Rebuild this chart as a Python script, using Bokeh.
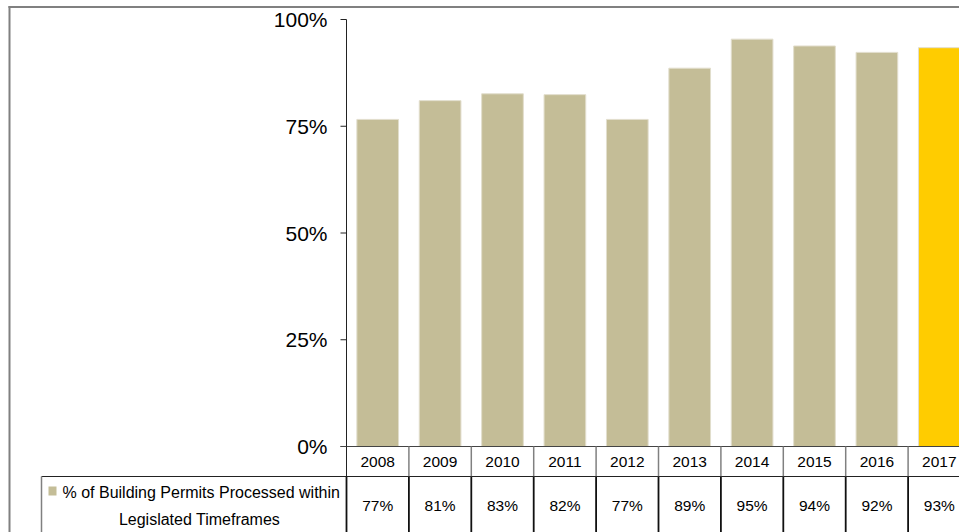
from bokeh.plotting import figure
from bokeh.models import Range1d
from bokeh.core.properties import value
from bokeh.embed import file_html
from bokeh.resources import INLINE

# ---- data ----
years = ["2008", "2009", "2010", "2011", "2012", "2013", "2014", "2015", "2016", "2017"]
pct_within = [76.6, 81.0, 82.6, 82.4, 76.6, 88.6, 95.4, 93.8, 92.3, 93.4]
bar_colors = ["#C4BD97"] * 9 + ["#FFCC00"]
y_ticks = [0, 25, 50, 75, 100]
y_tick_labels = ["0%", "25%", "50%", "75%", "100%"]
series_line1 = "% of Building Permits Processed within"
series_line2 = "Legislated Timeframes"
series_color = "#C4BD97"

# ---- layout constants (pixels) ----
W, H = 959, 532
LEFT = 346          # pixel column of the value axis
ZERO_PX = 446       # pixel row of 0%
PX_PER_PCT = 4.27
COL_PX = 62.4
ROW1_BOTTOM = 476   # bottom of the year row
FONT = "Liberation Sans"


def xpx(px):
    return (px - LEFT) / COL_PX


def ypx(px):
    return (ZERO_PX - px) / PX_PER_PCT


p = figure(width=W, height=H, output_backend="svg", toolbar_location=None,
           x_range=Range1d(xpx(0), xpx(W)), y_range=Range1d(ypx(H), ypx(0)),
           x_axis_location=None, y_axis_location=None,
           min_border=0, min_border_left=0, min_border_right=0,
           min_border_top=0, min_border_bottom=0)
p.outline_line_color = None
p.xgrid.visible = False
p.ygrid.visible = False
p.background_fill_color = "white"
p.border_fill_color = "white"

n = len(years)
xs = [i + 0.5 for i in range(n)]

# bars
p.vbar(x=xs, top=pct_within, bottom=0, width=0.668, fill_color=bar_colors,
       line_color="#E2DECD", line_width=1)

# value axis
p.segment(x0=[0], y0=[0], x1=[0], y1=[y_ticks[-1]], line_color="#222222", line_width=1)
nt = len(y_ticks)
p.segment(x0=[xpx(LEFT - 6)] * nt, y0=y_ticks, x1=[0] * nt, y1=y_ticks,
          line_color="#222222", line_width=1)
p.text(x=[xpx(327)] * nt, y=y_ticks, text=y_tick_labels, text_font=value(FONT),
       text_font_size="21px", text_align="right", text_baseline="middle",
       text_color="black")

# data table
p.segment(x0=[xpx(LEFT - 6)], y0=[0], x1=[xpx(W)], y1=[0],
          line_color="#444444", line_width=1)
p.segment(x0=[xpx(41)], y0=[ypx(ROW1_BOTTOM)], x1=[xpx(W)], y1=[ypx(ROW1_BOTTOM)],
          line_color="#222222", line_width=1.2)
vx = list(range(1, n + 1))
p.segment(x0=vx, y0=[0] * n, x1=vx, y1=[ypx(ROW1_BOTTOM)] * n,
          line_color="#808080", line_width=1.5)
vx0 = list(range(0, n + 1))
p.segment(x0=vx0, y0=[ypx(ROW1_BOTTOM)] * (n + 1), x1=vx0, y1=[ypx(H + 2)] * (n + 1),
          line_color="#111111", line_width=1.8)
p.segment(x0=[0], y0=[0], x1=[0], y1=[ypx(ROW1_BOTTOM)],
          line_color="#222222", line_width=1)

p.text(x=xs, y=[ypx(461.5)] * n, text=years, text_font=value(FONT),
       text_font_size="15.5px", text_align="center", text_baseline="middle",
       text_color="black")
p.text(x=xs, y=[ypx(505)] * n, text=[f"{v:.0f}%" for v in pct_within],
       text_font=value(FONT), text_font_size="15.5px", text_align="center",
       text_baseline="middle", text_color="black")

# legend cell of the table
p.segment(x0=[xpx(41)], y0=[ypx(ROW1_BOTTOM)], x1=[xpx(41)], y1=[ypx(H + 2)],
          line_color="#808080", line_width=1.5)
p.quad(left=[xpx(48)], right=[xpx(56)], top=[ypx(486)], bottom=[ypx(495)],
       fill_color=series_color, line_color=None)
p.text(x=[xpx(62)], y=[ypx(491.5)], text=[series_line1], text_font=value(FONT),
       text_font_size="16px", text_align="left", text_baseline="middle",
       text_color="black")
p.text(x=[xpx(199)], y=[ypx(519)], text=[series_line2], text_font=value(FONT),
       text_font_size="16px", text_align="center", text_baseline="middle",
       text_color="black")

# chart area border
p.segment(x0=[xpx(8)], y0=[ypx(6.5)], x1=[xpx(W + 2)], y1=[ypx(6.5)],
          line_color="#808080", line_width=2)
p.segment(x0=[xpx(9)], y0=[ypx(5.5)], x1=[xpx(9)], y1=[ypx(H + 2)],
          line_color="#808080", line_width=2)

open("out.html", "w").write(file_html(p, INLINE))
